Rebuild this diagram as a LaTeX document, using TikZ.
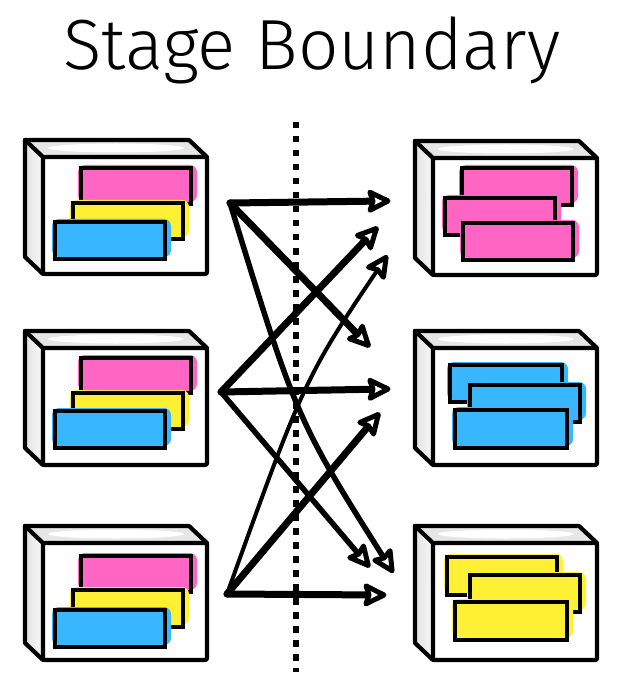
\documentclass[tikz,border=0pt]{standalone}
\usepackage{fontspec}
\newfontfamily\titlefont{Fira Sans Light}
\usetikzlibrary{fit,calc}
\definecolor{pinkc}{HTML}{FF66C4}
\definecolor{yelc}{HTML}{FFF033}
\definecolor{bluec}{HTML}{38B6FF}
\definecolor{facegray}{HTML}{E6E6E6}
\tikzset{
  edge/.style={line width=4.2pt, line join=round, line cap=round},
  frontface/.style={draw, fill=white, line width=4.2pt, rounded corners=2pt, inner sep=0pt, outer sep=0pt,
    minimum width=164pt, minimum height=117pt, anchor=north west},
  tileline/.style={draw, line width=3.3pt, inner sep=0pt, outer sep=0pt},
  arr/.style={line cap=round, line join=round},
  thickarr/.style={arr, line width=7pt},
  midarr/.style={arr, line width=5.5pt},
  thinarr/.style={arr, line width=4pt},
  headline/.style={draw=black, fill=white, line width=5pt, line join=round},
  dotline/.style={line width=6.5pt, dash pattern=on 6.5pt off 7.5pt}
}
% arrow head at #2, pointing in the direction #1 -> #2
\newcommand\ahead[2]{%
  \path let \p1=($(#2)-(#1)$), \n1={atan2(\y1,\x1)} in
    [shift={(#2)}, rotate=\n1]
    [headline] (-16pt,-9pt) -- (2pt,0pt) -- (-16pt,9pt) -- (-13pt,0pt) -- cycle;
}
% crate: name, front top-left x, y
\newcommand\crate[3]{%
  \fill[facegray] (#2-18,#3-17) -- (#2+146,#3-17) -- (#2+164,#3) -- (#2,#3) -- cycle;
  \fill[white] (#2+73,#3-9) ellipse [x radius=68, y radius=4.5];
  \shade[left color=gray!22, right color=gray!6] (#2-18,#3-17) -- (#2,#3) -- (#2,#3+117) -- (#2-18,#3+100) -- cycle;
  \draw[edge] (#2-18,#3-17) -- (#2+146,#3-17) -- (#2+164,#3);
  \draw[edge] (#2-18,#3-17) -- (#2-18,#3+100) -- (#2,#3+117);
  \draw[edge] (#2-18,#3-17) -- (#2,#3);
  \node[frontface] (#1) at (#2,#3) {};
}
% tile: name, fx, fy, rx1, ry1, rx2, ry2, colour
\newcommand\tile[8]{%
  \fill[white] (#2+#4,#3+#5) rectangle (#2+#6,#3+#7);
  \fill[#8, rounded corners=7pt] (#2+#4-3,#3+#5-3) rectangle (#2+#6+6,#3+#7-2);
  \node[tileline, fit={(#2+#4,#3+#5) (#2+#6,#3+#7)}] (#1) {};
}
\begin{document}
\begin{tikzpicture}[x=1pt,y=-1pt]
\useasboundingbox (0,0) rectangle (622,700);

\node[font=\titlefont\fontsize{71}{78}\selectfont, anchor=base, inner sep=0pt] (title) at (312,70) {Stage Boundary};

% left crates
\crate{L1}{43}{157}
\tile{L1a}{43}{157}{38}{11}{148}{47}{pinkc}
\tile{L1b}{43}{157}{30}{46}{140}{82}{yelc}
\tile{L1c}{43}{157}{12}{65}{122}{102}{bluec}
\crate{L2}{43}{348}
\tile{L2a}{43}{348}{38}{10}{148}{45}{pinkc}
\tile{L2b}{43}{348}{30}{45}{140}{81}{yelc}
\tile{L2c}{43}{348}{12}{63}{122}{100}{bluec}
\crate{L3}{43}{543}
\tile{L3a}{43}{543}{38}{13}{148}{49}{pinkc}
\tile{L3b}{43}{543}{30}{47}{140}{84}{yelc}
\tile{L3c}{43}{543}{12}{67}{122}{104}{bluec}

% right crates
\crate{R1}{433}{158}
\tile{R1a}{433}{158}{29}{10}{139}{47}{pinkc}
\tile{R1b}{433}{158}{12}{40}{122}{77}{pinkc}
\tile{R1c}{433}{158}{30}{65}{140}{102}{pinkc}
\crate{R2}{433}{348}
\tile{R2a}{433}{348}{17}{17}{129}{54}{bluec}
\tile{R2b}{433}{348}{37}{37}{147}{74}{bluec}
\tile{R2c}{433}{348}{22}{62}{134}{100}{bluec}
\crate{R3}{433}{543}
\tile{R3a}{433}{543}{14}{14}{124}{52}{yelc}
\tile{R3b}{433}{543}{37}{32}{147}{69}{yelc}
\tile{R3c}{433}{543}{22}{59}{134}{97}{yelc}

% stage boundary
\coordinate (dtop) at (296,122);
\coordinate (dbot) at (296,672);
\draw[dotline] (dtop) -- (dbot);

% sources and targets
\coordinate (s1) at (230,203);
\coordinate (s2) at (221,392);
\coordinate (s3) at (227,594);
\coordinate (t1) at (386,201);
\coordinate (t2) at (367,344);
\coordinate (t3) at (391,569);
\coordinate (t4) at (386,389);
\coordinate (t5) at (375,230);
\coordinate (t6) at (367,564);
\coordinate (t7) at (382,595);
\coordinate (t8) at (377,416);
\coordinate (t9) at (385,259);
\coordinate (c3) at (297,421);
\coordinate (c9) at (305,377);

\draw[thickarr] (s1) -- (t1);
\draw[thickarr] (s1) -- (t2);
\draw[midarr] (s1) .. controls (c3) .. (t3);
\draw[thickarr] (s2) -- (t4);
\draw[thickarr] (s2) -- (t5);
\draw[midarr] (s2) -- (t6);
\draw[thickarr] (s3) -- (t7);
\draw[thickarr] (s3) -- (t8);
\draw[thinarr] (s3) .. controls (c9) .. (t9);

\ahead{s1}{t1}
\ahead{s1}{t2}
\ahead{c3}{t3}
\ahead{s2}{t4}
\ahead{s2}{t5}
\ahead{s2}{t6}
\ahead{s3}{t7}
\ahead{s3}{t8}
\ahead{c9}{t9}
\end{tikzpicture}
\end{document}
